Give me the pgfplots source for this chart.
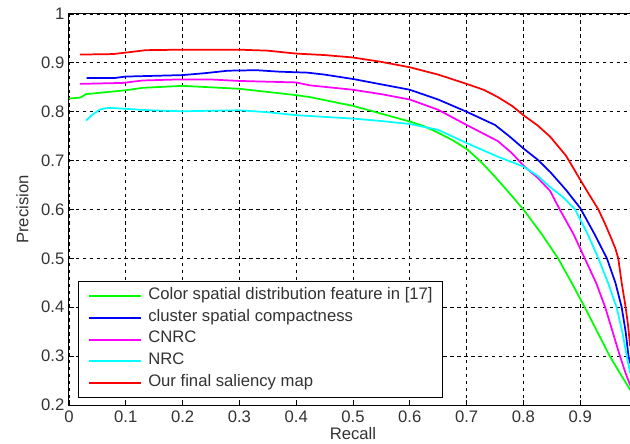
\documentclass[border=0pt]{standalone}
\usepackage{fontspec}
\setmainfont{Liberation Sans}
\usepackage{pgfplots}
\pgfplotsset{compat=1.18}

\definecolor{cGreen}{RGB}{0,255,0}
\definecolor{cBlue}{RGB}{0,0,255}
\definecolor{cMagenta}{RGB}{255,0,255}
\definecolor{cCyan}{RGB}{0,255,255}
\definecolor{cRed}{RGB}{255,0,0}

\begin{document}
\begin{tikzpicture}
\useasboundingbox (-51.75pt,-28.5pt) rectangle (420.75pt,303.75pt);
\begin{axis}[
  scale only axis,
  width=426pt, height=293.25pt,
  xmin=0, xmax=1, ymin=0.2, ymax=1,
  xtick={0,0.1,0.2,0.3,0.4,0.5,0.6,0.7,0.8,0.9},
  ytick={0.2,0.3,0.4,0.5,0.6,0.7,0.8,0.9,1},
  xtick pos=bottom, ytick pos=left,
  tick align=inside,
  major tick length=3.5pt,
  tick style={black, line width=0.6pt},
  axis line style={black, line width=0.75pt},
  grid=major,
  major grid style={black, line width=0.6pt, dash pattern=on 2.6pt off 2.6pt},
  /pgf/number format/.cd, fixed, precision=1, assume math mode=true,
  /pgfplots/.cd,
  ticklabel style={font=\fontsize{12.5}{14}\selectfont, text=black!80},
  xticklabel style={yshift=-1pt},
  xlabel={Recall}, ylabel={Precision},
  label style={font=\fontsize{12.5}{14}\selectfont, text=black!80},
  xlabel style={yshift=3.5pt},
  ylabel style={yshift=2.5pt},
  legend cell align=left,
  legend style={
    at={(0.0166,0.0179)}, anchor=south west,
    draw=black, line width=0.75pt,
    fill=white,
    inner xsep=7pt, inner ysep=3pt,
    font=\fontsize{12.5}{14}\selectfont,
    text=black!80,
    row sep=0pt, column sep=4.5pt,
    nodes={inner sep=0pt, text height=10.6pt, text depth=5.6pt},
  },
  legend image code/.code={\draw[#1, line width=1.5pt] (0pt,0pt) -- (39pt,0pt);},
  every axis plot/.append style={line width=1.3pt},
]
% Color spatial distribution feature
\addplot[cGreen] coordinates {
(0,0.827) (0.02,0.829) (0.03,0.836) (0.1,0.844) (0.13,0.849) (0.2,0.853)
(0.3,0.847) (0.4,0.834) (0.424,0.83) (0.5,0.812) (0.55,0.796) (0.6,0.78)
(0.624,0.771) (0.65,0.757) (0.675,0.742) (0.7,0.724) (0.725,0.698) (0.75,0.667)
(0.775,0.634) (0.8,0.6) (0.832,0.55) (0.861,0.5) (0.885,0.45) (0.908,0.4)
(0.93,0.35) (0.952,0.3) (0.97,0.265) (0.988,0.231)};
% cluster spatial compactness
\addplot[cBlue] coordinates {
(0.031,0.869) (0.08,0.869) (0.1,0.872) (0.2,0.875) (0.24,0.879) (0.28,0.884)
(0.33,0.885) (0.37,0.882) (0.42,0.88) (0.45,0.876) (0.5,0.867) (0.55,0.856)
(0.6,0.845) (0.65,0.825) (0.7,0.8) (0.75,0.773) (0.775,0.75) (0.8,0.725)
(0.825,0.702) (0.847,0.677) (0.875,0.64) (0.9,0.603) (0.925,0.55) (0.947,0.5)
(0.962,0.45) (0.973,0.4) (0.98,0.35) (0.985,0.3) (0.988,0.285)};
% CNRC
\addplot[cMagenta] coordinates {
(0.019,0.857) (0.095,0.859) (0.13,0.864) (0.19,0.866) (0.25,0.866) (0.3,0.863)
(0.4,0.86) (0.424,0.854) (0.5,0.845) (0.55,0.836) (0.6,0.825) (0.65,0.804)
(0.7,0.773) (0.755,0.74) (0.78,0.715) (0.8,0.69) (0.825,0.665) (0.847,0.638)
(0.864,0.6) (0.888,0.55) (0.908,0.5) (0.928,0.45) (0.944,0.4) (0.957,0.35)
(0.97,0.3) (0.98,0.265) (0.988,0.24)};
% NRC
\addplot[cCyan] coordinates {
(0.03,0.782) (0.04,0.793) (0.055,0.805) (0.07,0.808) (0.1,0.806) (0.14,0.803)
(0.2,0.801) (0.3,0.803) (0.35,0.799) (0.4,0.793) (0.5,0.786) (0.55,0.781)
(0.6,0.775) (0.65,0.763) (0.7,0.736) (0.755,0.708) (0.8,0.688) (0.825,0.669)
(0.847,0.646) (0.87,0.625) (0.891,0.6) (0.913,0.55) (0.932,0.5) (0.949,0.45)
(0.964,0.4) (0.974,0.35) (0.982,0.3) (0.988,0.265)};
% Our final saliency map
\addplot[cRed] coordinates {
(0.019,0.917) (0.077,0.918) (0.1,0.921) (0.135,0.926) (0.2,0.927) (0.3,0.927)
(0.35,0.925) (0.4,0.919) (0.45,0.916) (0.5,0.911) (0.55,0.902) (0.6,0.891)
(0.65,0.876) (0.7,0.857) (0.73,0.845) (0.755,0.83) (0.78,0.812) (0.8,0.793)
(0.825,0.772) (0.847,0.749) (0.875,0.71) (0.9,0.661) (0.915,0.632) (0.932,0.6)
(0.944,0.57) (0.955,0.54) (0.962,0.52) (0.967,0.5) (0.973,0.45) (0.98,0.4)
(0.984,0.365) (0.988,0.32)};
\legend{Color spatial distribution feature in [17], cluster spatial compactness, CNRC, NRC, Our final saliency map}
\end{axis}
\end{tikzpicture}
\end{document}
